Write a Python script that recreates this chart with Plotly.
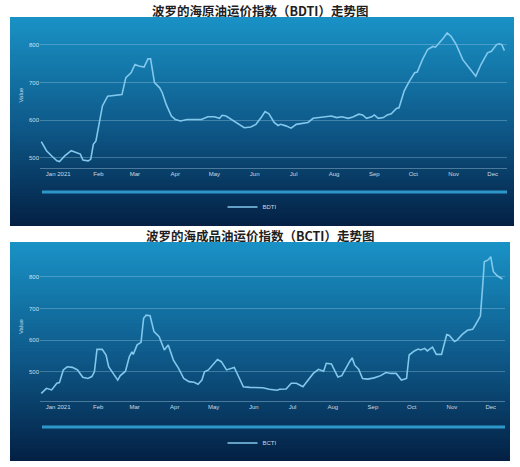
import plotly.graph_objects as go

# ---------------- data ----------------
bdti_dates = ["2020-12-19", "2020-12-23", "2020-12-27", "2020-12-31", "2021-01-02", "2021-01-06",
              "2021-01-11", "2021-01-14", "2021-01-18", "2021-01-20", "2021-01-24", "2021-01-26",
              "2021-01-28", "2021-01-30", "2021-02-02", "2021-02-04", "2021-02-08", "2021-02-12",
              "2021-02-16", "2021-02-19", "2021-02-22", "2021-02-26", "2021-03-01", "2021-03-04",
              "2021-03-08", "2021-03-11", "2021-03-13", "2021-03-16", "2021-03-20", "2021-03-22",
              "2021-03-25", "2021-03-29", "2021-04-01", "2021-04-05", "2021-04-10", "2021-04-16",
              "2021-04-21", "2021-04-26", "2021-05-01", "2021-05-05", "2021-05-07", "2021-05-10",
              "2021-05-14", "2021-05-19", "2021-05-24", "2021-05-29", "2021-06-02", "2021-06-06",
              "2021-06-09", "2021-06-12", "2021-06-16", "2021-06-19", "2021-06-21", "2021-06-25",
              "2021-06-29", "2021-07-03", "2021-07-08", "2021-07-12", "2021-07-16", "2021-07-21",
              "2021-07-26", "2021-07-30", "2021-08-03", "2021-08-07", "2021-08-12", "2021-08-16",
              "2021-08-20", "2021-08-23", "2021-08-26", "2021-08-30", "2021-09-01", "2021-09-04",
              "2021-09-08", "2021-09-11", "2021-09-14", "2021-09-18", "2021-09-20", "2021-09-24",
              "2021-09-28", "2021-10-02", "2021-10-04", "2021-10-08", "2021-10-12", "2021-10-16",
              "2021-10-18", "2021-10-21", "2021-10-24", "2021-10-27", "2021-10-30", "2021-11-03",
              "2021-11-08", "2021-11-13", "2021-11-17", "2021-11-18", "2021-11-22", "2021-11-27",
              "2021-11-30", "2021-12-04", "2021-12-06", "2021-12-08", "2021-12-10"]
bdti_values = [543, 519, 505, 492, 490, 505,
               519, 516, 510, 494, 492, 496,
               536, 545, 598, 638, 664, 666,
               666, 668, 713, 726, 748, 744,
               741, 763, 763, 700, 686, 673,
               642, 611, 602, 598, 602, 602,
               602, 609, 609, 605, 613, 611,
               602, 589, 580, 582, 589, 607,
               623, 617, 594, 586, 589, 585,
               579, 589, 591, 594, 605, 607,
               609, 611, 607, 609, 605, 609,
               616, 614, 605, 609, 614, 605,
               607, 614, 617, 631, 633, 678,
               704, 726, 728, 761, 788, 796,
               794, 805, 818, 832, 823, 801,
               761, 739, 721, 717, 748, 779,
               783, 801, 803, 801, 785]

bcti_dates = ["2020-12-19", "2020-12-23", "2020-12-27", "2020-12-31", "2021-01-02", "2021-01-05",
              "2021-01-08", "2021-01-12", "2021-01-16", "2021-01-20", "2021-01-24", "2021-01-27",
              "2021-01-29", "2021-01-31", "2021-02-04", "2021-02-07", "2021-02-09", "2021-02-13",
              "2021-02-16", "2021-02-18", "2021-02-22", "2021-02-25", "2021-02-27", "2021-02-28",
              "2021-03-03", "2021-03-06", "2021-03-08", "2021-03-10", "2021-03-13", "2021-03-16",
              "2021-03-20", "2021-03-24", "2021-03-27", "2021-03-31", "2021-04-04", "2021-04-08",
              "2021-04-12", "2021-04-16", "2021-04-19", "2021-04-22", "2021-04-24", "2021-04-27",
              "2021-04-30", "2021-05-04", "2021-05-07", "2021-05-11", "2021-05-15", "2021-05-17",
              "2021-05-21", "2021-05-24", "2021-05-29", "2021-06-03", "2021-06-08", "2021-06-13",
              "2021-06-19", "2021-06-21", "2021-06-26", "2021-06-30", "2021-07-04", "2021-07-09",
              "2021-07-13", "2021-07-17", "2021-07-21", "2021-07-25", "2021-07-27", "2021-07-31",
              "2021-08-03", "2021-08-05", "2021-08-08", "2021-08-11", "2021-08-14", "2021-08-16",
              "2021-08-18", "2021-08-21", "2021-08-24", "2021-08-28", "2021-09-02", "2021-09-07",
              "2021-09-11", "2021-09-15", "2021-09-19", "2021-09-23", "2021-09-27", "2021-09-29",
              "2021-10-03", "2021-10-06", "2021-10-08", "2021-10-11", "2021-10-13", "2021-10-17",
              "2021-10-20", "2021-10-24", "2021-10-28", "2021-10-30", "2021-11-03", "2021-11-05",
              "2021-11-09", "2021-11-13", "2021-11-17", "2021-11-19", "2021-11-23", "2021-11-25",
              "2021-11-26", "2021-11-29", "2021-12-01", "2021-12-03", "2021-12-06", "2021-12-10"]
bcti_values = [432, 448, 443, 464, 466, 506,
               516, 514, 506, 483, 479, 485,
               500, 571, 571, 553, 516, 490,
               474, 488, 502, 548, 563, 555,
               585, 593, 669, 679, 677, 627,
               611, 569, 585, 537, 511, 479,
               469, 467, 461, 474, 500, 506,
               521, 539, 532, 506, 511, 514,
               479, 453, 451, 450, 450, 445,
               442, 445, 446, 464, 464, 453,
               474, 495, 508, 502, 527, 525,
               500, 484, 488, 511, 532, 544,
               521, 508, 479, 477, 481, 488,
               498, 495, 495, 474, 479, 553,
               566, 572, 569, 574, 566, 578,
               555, 555, 618, 615, 596, 600,
               618, 631, 634, 647, 676, 784,
               847, 853, 863, 816, 803, 793]

month_ticks = ["2021-01-01", "2021-02-01", "2021-03-01", "2021-04-01", "2021-05-01", "2021-06-01",
               "2021-07-01", "2021-08-01", "2021-09-01", "2021-10-01", "2021-11-01", "2021-12-01"]
month_labels = ["Jan 2021", "Feb", "Mar", "Apr", "May", "Jun",
                "Jul", "Aug", "Sep", "Oct", "Nov", "Dec"]
y_ticks = [500, 600, 700, 800]
titles = ["波罗的海原油运价指数（BDTI）走势图", "波罗的海成品油运价指数（BCTI）走势图"]
series_names = ["BDTI", "BCTI"]

# ---------------- layout helpers ----------------
W, H = 520, 467


def px(x):
    return x / W


def py(y):
    return 1 - y / H


def lerp(c1, c2, t):
    return tuple(round(a + (b - a) * t) for a, b in zip(c1, c2))


def gradient(y0, y1, x0, x1, n=70):
    stops = [(0.0, (26, 146, 198)), (0.5, (14, 92, 140)), (1.0, (4, 32, 68))]
    shapes = []
    h = (y1 - y0) / n
    for i in range(n):
        t = (i + 0.5) / n
        if t <= 0.5:
            c = lerp(stops[0][1], stops[1][1], t / 0.5)
        else:
            c = lerp(stops[1][1], stops[2][1], (t - 0.5) / 0.5)
        top = y0 + i * h
        bot = min(y1, y0 + (i + 1) * h + 1.5)
        shapes.append(dict(type="rect", xref="paper", yref="paper",
                           x0=px(x0), x1=px(x1), y0=py(bot), y1=py(top),
                           line=dict(width=0), fillcolor="rgb(%d,%d,%d)" % c, layer="below"))
    return shapes


fig = go.Figure()

line_color = "#82c8ec"
fig.add_trace(go.Scatter(x=bdti_dates, y=bdti_values, mode="lines", name=series_names[0],
                         line=dict(color=line_color, width=1.6), xaxis="x", yaxis="y",
                         legend="legend", showlegend=True))
fig.add_trace(go.Scatter(x=bcti_dates, y=bcti_values, mode="lines", name=series_names[1],
                         line=dict(color=line_color, width=1.6), xaxis="x2", yaxis="y2",
                         legend="legend2", showlegend=True))

shapes = []
shapes += gradient(17, 226, 10, 514)
shapes += gradient(242, 461, 10, 510)
# navigator bars
shapes.append(dict(type="line", xref="paper", yref="paper", x0=px(42), x1=px(507),
                   y0=py(192), y1=py(192), line=dict(color="#2e97c9", width=3)))
shapes.append(dict(type="line", xref="paper", yref="paper", x0=px(42), x1=px(505),
                   y0=py(427), y1=py(427), line=dict(color="#2e97c9", width=3)))

tick_font = dict(family="Liberation Sans", size=6, color="rgba(235,245,255,0.85)")
grid_color = "rgba(200,230,250,0.28)"
xrange = ["2020-12-18", "2021-12-12"]

common_x = dict(type="date", range=xrange, tickvals=month_ticks, ticktext=month_labels,
                showgrid=False, showline=True, linecolor="rgba(200,230,250,0.35)", linewidth=1,
                ticks="", tickfont=tick_font, zeroline=False, fixedrange=True, automargin=False)
common_y = dict(tickvals=y_ticks, showgrid=True, gridcolor=grid_color, gridwidth=1,
                zeroline=False, ticks="", tickfont=tick_font, showline=False, automargin=False,
                title=dict(text="Value", font=dict(family="Liberation Sans", size=6,
                                                   color="rgba(235,245,255,0.8)"), standoff=4))

legend_font = dict(family="Liberation Sans", size=6, color="rgba(235,245,255,0.85)")

fig.update_layout(
    width=W, height=H,
    margin=dict(l=0, r=0, t=0, b=0),
    paper_bgcolor="white",
    plot_bgcolor="rgba(0,0,0,0)",
    showlegend=True,
    shapes=shapes,
    xaxis=dict(domain=[px(40), px(507)], anchor="y", **common_x),
    yaxis=dict(domain=[py(168), py(22)], range=[473, 861], anchor="x", **common_y),
    xaxis2=dict(domain=[px(40), px(505)], anchor="y2", **common_x),
    yaxis2=dict(domain=[py(401), py(252)], range=[408, 878], anchor="x2", **common_y),
    legend=dict(x=px(252), xanchor="center", y=py(207), yanchor="middle", orientation="h",
                bgcolor="rgba(0,0,0,0)", itemwidth=30, font=legend_font, visible=True),
    legend2=dict(x=px(252), xanchor="center", y=py(443), yanchor="middle", orientation="h",
                 bgcolor="rgba(0,0,0,0)", itemwidth=30, font=legend_font, visible=True),
    annotations=[
        dict(text="<b>%s</b>" % titles[0], xref="paper", yref="paper", x=0.5, y=py(10),
             xanchor="center", yanchor="middle", showarrow=False,
             font=dict(family="Noto Sans CJK SC", size=12.5, color="#1e1e1e")),
        dict(text="<b>%s</b>" % titles[1], xref="paper", yref="paper", x=0.5, y=py(235),
             xanchor="center", yanchor="middle", showarrow=False,
             font=dict(family="Noto Sans CJK SC", size=12.5, color="#1e1e1e")),
    ],
)

fig.write_html("out.html", config={"displayModeBar": False},
               post_script="document.body.style.margin='0';document.body.style.overflow='hidden';")
